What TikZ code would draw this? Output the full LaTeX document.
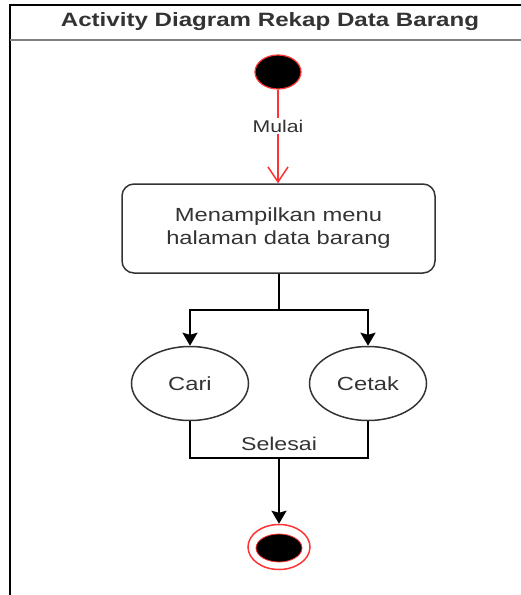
\documentclass[tikz,border=0pt]{standalone}
\usepackage{fontspec}
\setmainfont[FakeStretch=1.25]{Liberation Sans}
\usetikzlibrary{shapes.geometric,arrows.meta,calc}
\definecolor{ink}{HTML}{333333}
\definecolor{uired}{HTML}{FF3333}
\tikzset{
  frameline/.style={line width=2pt,draw=black},
  sepline/.style={line width=2pt,draw=gray},
  actbox/.style={draw=ink,line width=1.5pt,rounded corners=12pt,minimum width=313pt,minimum height=89pt,align=center,font=\fontsize{19}{23}\selectfont,text=ink,inner sep=0pt},
  usecase/.style={ellipse,draw=ink,line width=1.5pt,minimum width=117pt,minimum height=74pt,inner sep=0pt,font=\fontsize{19}{23}\selectfont,text=ink},
  startdot/.style={ellipse,fill=black,draw=uired,line width=1.2pt,minimum width=46pt,minimum height=34pt,inner sep=0pt},
  endring/.style={ellipse,draw=uired,line width=1.5pt,minimum width=62pt,minimum height=45pt,inner sep=0pt},
  enddot/.style={ellipse,fill=black,draw=uired,line width=0.8pt,minimum width=46pt,minimum height=28pt,inner sep=0pt},
  redflow/.style={draw=uired,line width=1.5pt,-{Straight Barb[length=15pt,width=20pt,line width=1.5pt]}},
  blkflow/.style={draw=black,line width=2pt,-{Stealth[length=13pt,width=15pt,inset=2pt]}},
  blkline/.style={draw=black,line width=2pt},
  flowlabel/.style={fill=white,text=ink,inner sep=2pt},
}
\begin{document}
\begin{tikzpicture}[x=1pt,y=-1pt]
\useasboundingbox (0,0) rectangle (521,595);
% frame
\draw[frameline] (10,600) -- (10,5) -- (530,5);
\draw[sepline] (10,39.5) -- (530,39.5);
\node[font=\bfseries\fontsize{19.3}{23}\selectfont,text=ink] (title) at (270,22) {Activity Diagram Rekap Data Barang};
% nodes
\node[startdot] (start) at (278,72) {};
\node[actbox] (menu) at (278.5,228.5) {Menampilkan menu\\halaman data barang};
\node[usecase] (cari) at (190,383.5) {Cari};
\node[usecase] (cetak) at (368,383.5) {Cetak};
\node[endring] (endo) at (279,547) {};
\node[enddot] (endi) at (279,548) {};
% connectors
\draw[redflow] (start) -- node[pos=0.39,flowlabel,font=\fontsize{17}{20}\selectfont] (mulai) {Mulai} (menu.north -| start);
\draw[blkline] (menu.south) -- ++(0,36) coordinate (fork);
\draw[blkflow] (fork) -| (cari.north);
\draw[blkflow] (fork) -| (cetak.north);
\draw[blkline] (cari.south) -- ++(0,37) coordinate (mergeL) -- (mergeL -| cetak.south) coordinate (mergeR) -- (cetak.south);
\node[text=ink,font=\fontsize{18.5}{22}\selectfont,anchor=south] (selesai) at ($(mergeL)!0.5!(mergeR)+(0,-4)$) {Selesai};
\coordinate (mergeM) at (mergeL -| endo);
\draw[blkflow] (mergeM) -- (endo.north);
\end{tikzpicture}
\end{document}
